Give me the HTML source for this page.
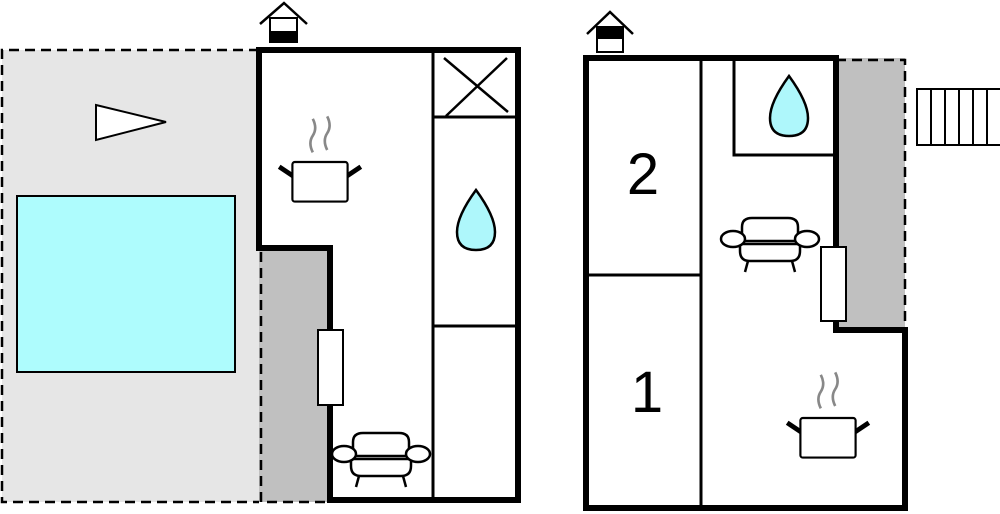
<!DOCTYPE html>
<html><head><style>html,body{margin:0;padding:0;background:#fff}svg{display:block}</style></head>
<body>
<svg width="1000" height="514" viewBox="0 0 1000 514" xmlns="http://www.w3.org/2000/svg">
<defs>
<g id="sofa" fill="#fff" stroke="#000" stroke-width="2.5">
<line x1="-22" y1="22" x2="-25" y2="33"/><line x1="22" y1="22" x2="25" y2="33"/>
<path d="M-30,0 L-30,12 Q-30,22 -20,22 L20,22 Q30,22 30,12 L30,0 Z"/>
<path d="M-28,2 L-28,-12 Q-28,-21 -18,-21 L18,-21 Q28,-21 28,-12 L28,2 Z"/>
<line x1="-28" y1="5" x2="28" y2="5"/>
<ellipse cx="-37" cy="0" rx="12" ry="8"/><ellipse cx="37" cy="0" rx="12" ry="8"/>
</g>
<g id="pot" transform="scale(1.2)">
<path d="M-6,-28 Q-10,-36 -6,-42 Q-2,-48 -6,-56 M6,-30 Q2,-38 6,-44 Q10,-50 6,-58" fill="none" stroke="#888" stroke-width="2.2"/>
<path d="M-22,-8 L-34,-16 M22,-8 L34,-16" stroke="#000" stroke-width="4"/>
<rect x="-23" y="-20" width="46" height="33" rx="2" fill="#fff" stroke="#000" stroke-width="1.8"/>
</g>
<g id="drop"><path d="M0,-31 Q19,-5 19,11 Q19,29 0,29 Q-19,29 -19,11 Q-19,-5 0,-31 Z" fill="#aef7fb" stroke="#000" stroke-width="2.5"/></g>
</defs>

<!-- left plan -->
<rect x="2" y="50" width="257" height="452" fill="#e6e6e6"/>
<path d="M259,50 L2,50 L2,502 L259,502" fill="none" stroke="#000" stroke-width="2.5" stroke-dasharray="10,6"/>
<rect x="259" y="248" width="71" height="254" fill="#c0c0c0"/>
<path d="M261,252 L261,502 L330,502" fill="none" stroke="#000" stroke-width="2.5" stroke-dasharray="10,6"/>
<rect x="17" y="196" width="218" height="176" fill="#aefcfd" stroke="#000" stroke-width="2"/>
<polygon points="96,105 166,122 96,140" fill="#fff" stroke="#000" stroke-width="2"/>
<path d="M259,50 L518,50 L518,500 L330,500 L330,248 L259,248 Z" fill="#fff" stroke="#000" stroke-width="6"/>
<line x1="433" y1="50" x2="433" y2="500" stroke="#000" stroke-width="3"/>
<line x1="433" y1="117" x2="518" y2="117" stroke="#000" stroke-width="3"/>
<line x1="433" y1="326" x2="518" y2="326" stroke="#000" stroke-width="3"/>
<path d="M444,58 L508,112 M507,58 L446,116" stroke="#000" stroke-width="2.5"/>
<rect x="318" y="330" width="25" height="75" fill="#fff" stroke="#000" stroke-width="2"/>
<use href="#sofa" x="381" y="454"/>
<use href="#pot" x="320" y="186"/>
<use href="#drop" x="476" y="221"/>
<!-- house icon left -->
<path d="M260,24 L284,3 L307,24" fill="none" stroke="#000" stroke-width="2.5"/>
<rect x="270" y="18" width="27" height="24" fill="#fff" stroke="#000" stroke-width="2"/>
<rect x="270" y="31" width="27" height="12" fill="#000"/>

<!-- right plan -->
<rect x="836" y="58" width="69" height="272" fill="#c0c0c0"/>
<path d="M836,60 L905,60 L905,330" fill="none" stroke="#000" stroke-width="2.5" stroke-dasharray="10,6"/>
<path d="M586,58 L836,58 L836,330 L905,330 L905,508 L586,508 Z" fill="#fff" stroke="#000" stroke-width="6"/>
<line x1="701" y1="58" x2="701" y2="508" stroke="#000" stroke-width="3"/>
<line x1="586" y1="275" x2="701" y2="275" stroke="#000" stroke-width="3"/>
<path d="M734,58 L734,155 L833,155" fill="none" stroke="#000" stroke-width="3"/>
<use href="#drop" x="789" y="107"/>
<use href="#sofa" x="770" y="239"/>
<rect x="821" y="247" width="25" height="74" fill="#fff" stroke="#000" stroke-width="2"/>
<use href="#pot" x="828" y="442"/>
<text x="643" y="194" font-family="Liberation Sans, sans-serif" font-size="58" text-anchor="middle">2</text>
<text x="647" y="412" font-family="Liberation Sans, sans-serif" font-size="58" text-anchor="middle">1</text>
<!-- stairs -->
<rect x="917" y="89" width="90" height="56" fill="#fff" stroke="#000" stroke-width="2"/>
<path d="M931,89V145M945,89V145M959,89V145M973,89V145M987,89V145M1001,89V145" stroke="#000" stroke-width="2"/>
<!-- house icon right -->
<path d="M587,34 L610,12 L633,34" fill="none" stroke="#000" stroke-width="2.5"/>
<rect x="597" y="27" width="26" height="25" fill="#fff" stroke="#000" stroke-width="2"/>
<rect x="597" y="27" width="26" height="12" fill="#000"/>
</svg>
</body></html>
